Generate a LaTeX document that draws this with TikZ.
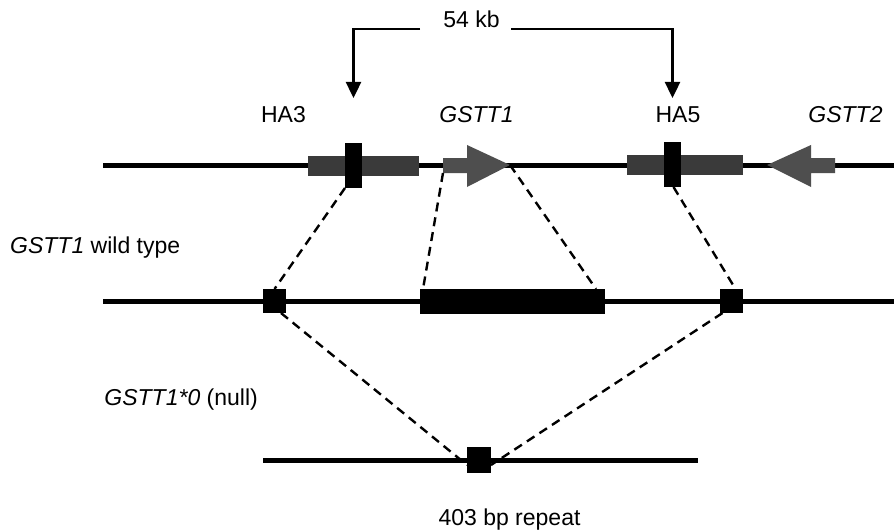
\documentclass[tikz,border=0pt]{standalone}
\usepackage{fontspec}
\setmainfont{Liberation Sans}
\usetikzlibrary{arrows.meta}
\definecolor{hagray}{HTML}{3A3A3A}
\definecolor{genegray}{HTML}{4E4E4E}
\tikzset{
  chrom/.style={line width=5pt},
  blk/.style={rectangle, fill=black, draw=none, inner sep=0pt, outer sep=0pt},
  habox/.style={rectangle, fill=hagray, draw=none, inner sep=0pt, outer sep=0pt},
  link/.style={line width=2.4pt, dash pattern=on 9pt off 6pt},
  bracket/.style={line width=2.4pt, -{Triangle[width=15pt,length=16pt]}},
  lbl/.style={font=\fontsize{23}{27}\selectfont, inner sep=0pt, anchor=base},
  gene/.style={fill=genegray, draw=none}
}
\begin{document}
\begin{tikzpicture}[x=1pt,y=-1pt]
\useasboundingbox (0,0) rectangle (894,532);
\fill[white] (0,0) rectangle (894,532);

% chromosome lines
\coordinate (t0) at (103,165); \coordinate (t1) at (894,165);
\coordinate (m0) at (103,301); \coordinate (m1) at (894,301);
\coordinate (b0) at (263,460); \coordinate (b1) at (698,460);
\draw[chrom] (t0) -- (t1);
\draw[chrom] (m0) -- (m1);
\draw[chrom] (b0) -- (b1);

% top row
\node[habox, minimum width=111, minimum height=20] (ha3box) at (363.5,166) {};
\node[blk, minimum width=17, minimum height=45] (ha3bar) at (353.5,165.5) {};
\node[habox, minimum width=116, minimum height=20] (ha5box) at (685,165) {};
\node[blk, minimum width=17, minimum height=45] (ha5bar) at (672.5,164.5) {};

% GSTT1 arrow (right)
\coordinate (g1s) at (443,173);
\coordinate (g1tip) at (510,165);
\fill[gene] (443,158) -- (467,158) -- (467,145) -- (g1tip) -- (467,187) -- (467,173) -- (g1s) -- cycle;
% GSTT2 arrow (left)
\coordinate (g2tip) at (767,165);
\fill[gene] (835,158) -- (811,158) -- (811,145) -- (g2tip) -- (811,187) -- (811,173) -- (835,173) -- cycle;

% middle row
\node[blk, minimum width=23, minimum height=24] (msq1) at (274.5,301) {};
\node[blk, minimum width=185, minimum height=25] (mbar) at (512.5,301.5) {};
\node[blk, minimum width=23, minimum height=24] (msq2) at (731.5,301) {};

% bottom row
\node[blk, minimum width=24, minimum height=26] (bsq) at (479,460) {};

% dashed links
\draw[link] (ha3bar.south west) -- (msq1.north);
\draw[link] (g1s) -- ([xshift=3pt]mbar.north west);
\draw[link] (g1tip) -- ([xshift=-9pt]mbar.north east);
\draw[link] ([xshift=1pt]ha5bar.south) -- ([xshift=4pt]msq2.north);
\draw[link] ([xshift=-5pt]msq1.south east) -- ([yshift=-5pt]bsq.west);
\draw[link] ([xshift=-9pt]msq2.south) -- ([yshift=-5pt]bsq.east);

% 54 kb bracket
\node[lbl] (kb) at (471.5,28) {54 kb};
\coordinate (kbl) at (420,29); \coordinate (kbr) at (511,29);
\coordinate (ar3) at (353.5,98); \coordinate (ar5) at (672.5,98);
\draw[bracket] (kbl) -- (353.5,29) -- (ar3);
\draw[bracket] (kbr) -- (672.5,29) -- (ar5);

% labels
\node[lbl] (lha3) at (283.5,123) {HA3};
\node[lbl] (lg1) at (476.5,123) {\itshape GSTT1};
\node[lbl] (lha5) at (678,123) {HA5};
\node[lbl] (lg2) at (845.5,123) {\itshape GSTT2};
\node[lbl, anchor=base west] (lwt) at (10,253) {\itshape GSTT1\upshape\ wild type};
\node[lbl, anchor=base east] (lnull) at (258,405) {\itshape GSTT1*0\upshape\ (null)};
\node[lbl] (lrep) at (509.5,525) {403 bp repeat};
\end{tikzpicture}
\end{document}
